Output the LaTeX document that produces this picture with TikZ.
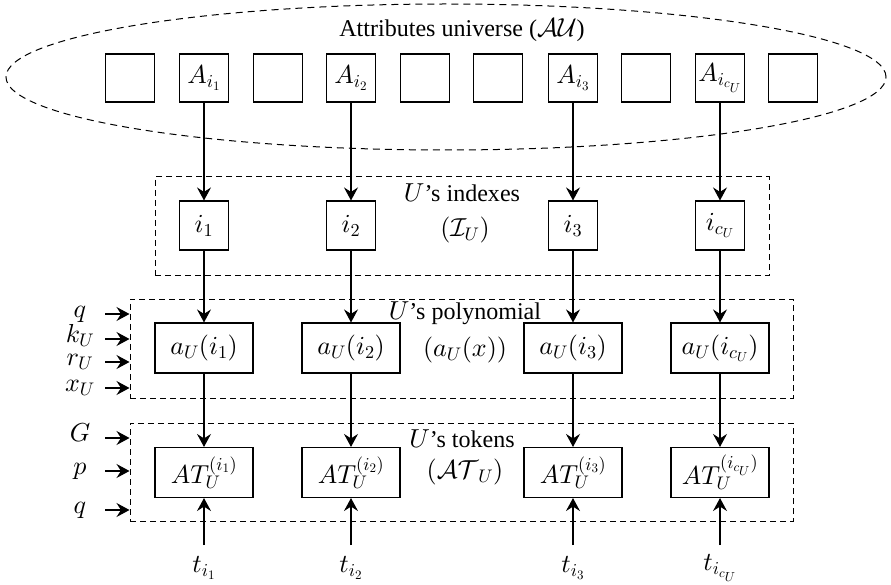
\RequirePackage{fix-cm}
\documentclass[tikz,border=0pt]{standalone}
\usepackage[no-math]{fontspec}
\setmainfont{Liberation Serif}[Scale=0.925]
\usetikzlibrary{arrows.meta,shapes.geometric}
% math glyphs from the 10pt/7pt design sizes, scaled, for a heavier stroke
\DeclareFontShape{OML}{cmm}{m}{it}{<-13>cmmi7 <13->cmmi10}{}
\DeclareFontShape{OT1}{cmr}{m}{n}{<-13>cmr7 <13->cmr10}{}
\DeclareFontShape{OMS}{cmsy}{m}{n}{<-13>cmsy7 <13->cmsy10}{}
\begin{document}
\begin{tikzpicture}[x=1pt,y=-1pt,
  every node/.style={font=\fontsize{26}{30}\selectfont},
  box/.style={draw, line width=1.1pt, inner sep=0pt},
  sq/.style={box, minimum width=49pt, minimum height=48pt},
  wide/.style={box, minimum width=98pt, minimum height=50pt},
  group/.style={draw, line width=1pt, dash pattern=on 6pt off 4pt, inner sep=0pt},
  arr/.style={line width=1.1pt, -{Stealth[length=13pt,width=14pt,inset=4.5pt]}},
  inlab/.style={minimum width=30pt, inner sep=0pt, text height=9pt, text depth=2pt}]
\useasboundingbox (0,0) rectangle (891,585);

% attribute universe
\node[ellipse, draw, line width=1pt, dash pattern=on 7pt off 5pt,
      minimum width=880pt, minimum height=146pt] (au) at (446,77) {};
\node (autitle) at (462,30) {Attributes universe ($\mathcal{A}\mathcal{U}$)};
\node[sq] (e1) at (130,78) {};
\node[sq] (a1) at (204,78) {$A_{i_1}$};
\node[sq] (e2) at (278,78) {};
\node[sq] (a2) at (351,78) {$A_{i_2}$};
\node[sq] (e3) at (425,78) {};
\node[sq] (e4) at (498,78) {};
\node[sq] (a3) at (573,78) {$A_{i_3}$};
\node[sq] (e5) at (646,78) {};
\node[sq] (ac) at (720,78) {$A_{i_{c_U}}$};
\node[sq] (e6) at (793,78) {};

% index group
\node[group, minimum width=614pt, minimum height=99pt] (idx) at (462,226.5) {};
\node (idxt) at (462,193) {$U$’s indexes};
\node (idxm) at (465,230) {$(\mathcal{I}_U)$};
\node[sq, minimum height=49pt] (i1) at (204,225.5) {$i_1$};
\node[sq, minimum height=49pt] (i2) at (351,225.5) {$i_2$};
\node[sq, minimum height=49pt] (i3) at (573,225.5) {$i_3$};
\node[sq, minimum height=49pt] (ic) at (720,225.5) {$i_{c_U}$};

% polynomial group
\node[group, minimum width=663pt, minimum height=99pt] (poly) at (461.5,348.5) {};
\node (polyt) at (465,313) {$U$’s polynomial};
\node (polym) at (465,350) {$(a_U(x))$};
\node[wide] (p1) at (204,348) {$a_U(i_1)$};
\node[wide] (p2) at (351,348) {$a_U(i_2)$};
\node[wide] (p3) at (573,348) {$a_U(i_3)$};
\node[wide] (pc) at (720,348) {$a_U(i_{c_U})$};

% token group
\node[group, minimum width=663pt, minimum height=98pt] (tok) at (461.5,472) {};
\node (tokt) at (462,439) {$U$’s tokens};
\node (tokm) at (465,472) {$(\mathcal{AT}_U)$};
\node[wide] (t1) at (204,472.5) {$AT_U^{(i_1)}$};
\node[wide] (t2) at (351,472.5) {$AT_U^{(i_2)}$};
\node[wide] (t3) at (573,472.5) {$AT_U^{(i_3)}$};
\node[wide] (tc) at (720,472.5) {$AT_U^{(i_{c_U})}$};

% downward flow
\foreach \a/\b/\c/\d in {a1/i1/p1/t1, a2/i2/p2/t2, a3/i3/p3/t3, ac/ic/pc/tc}{
  \draw[arr] (\a.south) -- (\b.north);
  \draw[arr] (\b.south) -- (\c.north);
  \draw[arr] (\c.south) -- (\d.north);
}

% token inputs from below
\foreach \n/\x/\s in {1/204/{i_1}, 2/351/{i_2}, 3/573/{i_3}, c/720/{i_{c_U}}}{
  \node (tl\n) at (\x,568) {$t_{\s}$};
  \coordinate (ts\n) at (\x,545);
}
\draw[arr] (ts1) -- (t1.south);
\draw[arr] (ts2) -- (t2.south);
\draw[arr] (ts3) -- (t3.south);
\draw[arr] (tsc) -- (tc.south);

% side inputs
\foreach \n/\y/\m/\g in {q/314/q/poly, k/339/k_U/poly, r/362/r_U/poly, x/388/x_U/poly,
                         G/438/G/tok, p/471/p/tok, q2/510/q/tok}{
  \node[inlab] (l\n) at (80,\y) {$\m$};
  \coordinate (s\n) at (105,\y);
  \draw[arr] (s\n) -- (s\n -| \g.west);
}
\end{tikzpicture}
\end{document}
